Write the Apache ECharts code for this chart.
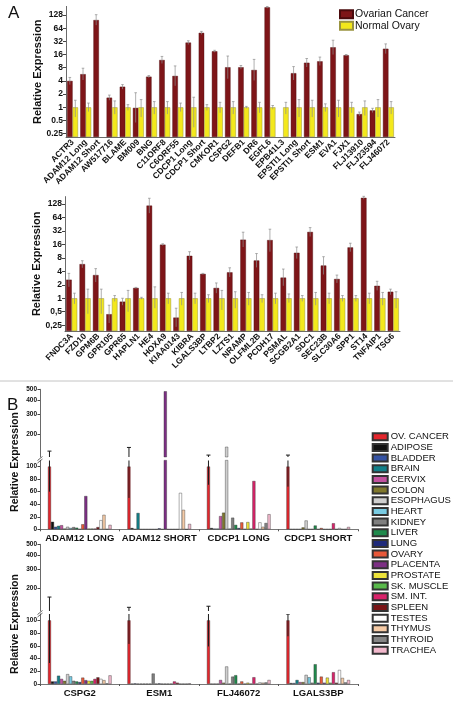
<!DOCTYPE html>
<html><head><meta charset="utf-8">
<script src="https://cdn.jsdelivr.net/npm/echarts@6/dist/echarts.min.js"></script>
<style>html,body{margin:0;padding:0;background:#fff}#c{width:453px;height:703px}</style>
</head><body><div id="c"></div>
<script>
// ---------------- Panel A (top) ----------------
const catsA1 = ['ACTR3','ADAM12 Long','ADAM12 Short','AW517716','BLAME','BM009','BNG','C11ORF8','C6ORF55','CDCP1 Long','CDCP1 Short','CMKOR1','CSPG2','DEFB1','DR6','EGFL6','EPB41L3','EPSTI1 Long','EPSTI1 Short','ESM1','EVA1','FJX1','FLJ13910','FLJ23594','FLJ46072'];
const cancerA1   = [4.0, 5.7, 98, 1.66, 2.95, 0.97, 5.0, 12, 5.2, 30, 50, 19, 8.2, 8.2, 7.1, 191, null, 6.0, 10.4, 11.2, 23.4, 15.4, 0.70, 0.85, 21.7];
const cancerA1Hi = [4.8, 7.8, 130, 1.9, 3.3, 2.15, 5.3, 14.5, 8.8, 33, 54, 20, 14.8, 9.0, 12.4, 200, null, 8.5, 13, 14, 34, 16, 0.78, 0.95, 28];
const cancerA1Lo = [3.3, 4.2, 75, 1.45, 2.6, 0.45, 4.7, 10, 3.1, 27, 46, 18, 4.5, 7.4, 4.1, 182, null, 4.2, 8.3, 9.0, 16, 14.8, 0.63, 0.76, 16.8];
const normalA1   = [1, 1, null, 1, 1, 1, 1, 1, 1, 1, 1, 1, 1, 1, 1, 1, 1, 1, 1, 1, 1, 1, 1, 1, 1];
const normalA1Hi = [1.45, 1.25, null, 1.4, 1.15, 1.5, 1.35, 1.35, 1.25, 1.7, 1.15, 1.3, 1.35, 1.05, 1.3, 1.1, 1.3, 1.5, 1.45, 1.2, 1.45, 1.3, 1.4, 1.5, 1.35];
const normalA1Lo = [0.6, 0.8, null, 0.7, 0.85, 0.6, 0.7, 0.7, 0.8, 0.35, 0.85, 0.75, 0.7, 0.95, 0.75, 0.9, 0.7, 0.6, 0.6, 0.8, 0.6, 0.75, 0.65, 0.6, 0.7];

// ---------------- Panel A (bottom) ----------------
const catsA2 = ['FNDC3A','FZD10','GPM6B','GPR105','GPR65','HAPLN1','HE4','HOXA9','KIAA0143','KIBRA','LGALS3BP','LTBP2','LZTS1','NRAMP','OLFML2B','PCDH17','PSMAL','SCGB2A1','SDC1','SEC23B','SLC30A6','SPP1','ST14','TNFAIP1','TSG6'];
const cancerA2   = [2.6, 5.8, 3.3, 0.44, 0.84, 1.7, 118, 15.8, 0.37, 8.9, 3.5, 1.7, 3.8, 20.4, 7.0, 20, 2.9, 10.4, 30.4, 5.4, 2.7, 13.7, 176, 1.9, 1.4];
const cancerA2Hi = [3.6, 6.9, 4.6, 0.7, 1.0, 1.75, 172, 16.5, 0.6, 11, 3.6, 2.2, 4.8, 30, 10, 35, 4.5, 14, 38, 8.5, 3.3, 17, 190, 2.4, 1.6];
const cancerA2Lo = [1.8, 4.8, 2.3, 0.28, 0.7, 1.65, 80, 15, 0.23, 7.2, 3.4, 1.3, 3.0, 14, 4.9, 11, 1.9, 7.7, 24, 3.4, 2.2, 11, 163, 1.5, 1.2];
const normalA2   = [1, 1, 1, 1, 1, 1, 1, 1, 1, 1, 1, 1, 1, 1, 1, 1, 1, 1, 1, 1, 1, 1, 1, 1, 1];
const normalA2Hi = [1.3, 1.6, 1.6, 1.15, 1.5, 1.05, 1.8, 1.3, 1.35, 1.3, 1.2, 1.5, 1.4, 1.35, 1.2, 1.3, 1.25, 1.15, 1.35, 1.3, 1.15, 1.15, 1.3, 1.35, 1.4];
const normalA2Lo = [0.75, 0.45, 0.45, 0.85, 0.5, 0.95, 0.6, 0.75, 0.7, 0.75, 0.8, 0.55, 0.6, 0.7, 0.8, 0.75, 0.8, 0.85, 0.7, 0.75, 0.85, 0.85, 0.75, 0.7, 0.6];
const yTicksA = [0.25, 0.5, 1, 2, 4, 8, 16, 32, 64, 128];

// ---------------- Panel B ----------------
const tissues = ['OV. CANCER','ADIPOSE','BLADDER','BRAIN','CERVIX','COLON','ESOPHAGUS','HEART','KIDNEY','LIVER','LUNG','OVARY','PLACENTA','PROSTATE','SK. MUSCLE','SM. INT.','SPLEEN','TESTES','THYMUS','THYROID','TRACHEA'];
const groupsB1 = ['ADAM12 LONG','ADAM12 SHORT','CDCP1 LONG','CDCP1 SHORT'];
const groupsB2 = ['CSPG2','ESM1','FLJ46072','LGALS3BP'];
// values per tissue (same order as tissues)
const adam12Long  = [100, 12, 4, 5.5, 6.5, 1, 4, 2, 3.5, 2.5, 0.5, 8, 53, 1, 1, 1, 3.5, 14.5, 23, 0.5, 7];
const adam12Short = [100, 2, 0.3, 26, 0.2, 0.2, 0.2, 0.2, 0.2, 0.2, 1.5, 0.2, 480, 0.2, 0.2, 0.2, 0.2, 58, 31, 0.2, 8.5];
const cdcp1Long   = [100, 2, 1, 1, 21, 26.5, 154, 1, 18.5, 7, 2, 11, 0.5, 11.5, 1, 77, 0.5, 11, 4, 10, 24];
const cdcp1Short  = [100, 0.3, 0.3, 0.3, 0.3, 3, 14, 0.3, 0.3, 6, 0.3, 2, 0.3, 0.3, 0.3, 9.6, 0.3, 2, 0.3, 0.3, 3.7];
const cspg2       = [100, 4, 4, 13, 8, 5, 15.5, 12, 5, 4, 3, 10, 6, 5, 5, 8, 10.5, 8, 6, 1, 13.5];
const esm1        = [100, 0.5, 1, 0.5, 0.5, 0.5, 0.5, 0.5, 16.4, 0.5, 1, 0.5, 0.5, 0.5, 0.5, 4, 2, 0.5, 0.5, 0.5, 1];
const flj46072    = [100, 0.5, 0.5, 0.5, 6.3, 2, 27.5, 0.5, 11.6, 13.8, 0.5, 4, 0.5, 2, 0.5, 10.6, 0.5, 2.5, 2, 2.5, 6.3];
const lgals3bp    = [100, 1.5, 1.5, 6.3, 3, 3, 14.3, 10.6, 2, 31, 2, 11.6, 2, 10, 2, 18.5, 2, 22, 9.5, 2.5, 6.3];
const ovErrHiB1 = [141, 152, 130, 130];
const ovErrLoB1 = [60, 50, 71, 68];
const ovErrHiB2 = [167, 135, 138, 122];
const ovErrLoB2 = [33, 63, 59, 75];
const yTicksBLow  = [0, 20, 40, 60, 80, 100];
const yTicksBHigh = [200, 300, 400, 500];

// ---------------- styles ----------------
const tissueColors = ['#e3262d','#111111','#3553a4','#128089','#c2529f','#80782c','#cfcfcf','#79cbe2','#7f7f7f','#1f8a4c','#1f2a7a','#e8593a','#7c2f84','#ede33a','#59b94b','#d9236a','#7a1416','#ffffff','#f6cba6','#858585','#f2b8cc'];
const FONT = "'Liberation Sans', Arial, sans-serif";
const RED = '#7e1518', YEL = '#f3e81c';

const LMIN1 = -2.25, LMAX1 = 7.65;   // top panel A (log2)
const LMIN2 = -2.43, LMAX2 = 7.55;   // bottom panel A (log2)
const GAPA = 0.17, GAPB = 0.2;
const BLOW_MAX = 110, BHI_MIN = 125, BHI_MAX = 500;

function l2(v, m) { return v == null ? null : Math.log2(v) - m; }
function hiT(v) { return Math.log10(v) - 2; }

function errA(side) {
  return function (params, api) {
    const i = api.value(0), lo = api.value(1), hi = api.value(2);
    const ch = api.coord([i, hi]), cl = api.coord([i, lo]);
    const W = api.size([1, 0])[0];
    const bw = W * (1 - GAPA) / 2;
    const x = ch[0] + side * bw / 2;
    const st = { stroke: '#8c8c8c', lineWidth: 0.7 };
    return { type: 'group', children: [
      { type: 'line', shape: { x1: x, y1: cl[1], x2: x, y2: ch[1] }, style: st },
      { type: 'line', shape: { x1: x - 1.3, y1: ch[1], x2: x + 1.3, y2: ch[1] }, style: st }
    ]};
  };
}
function errB(params, api) {
  const g = api.value(0), lo = api.value(1), hi = api.value(2), cap = api.value(3);
  const ch = api.coord([g, hi]), cl = api.coord([g, lo]);
  const W = api.size([1, 0])[0];
  const bw = W * (1 - GAPB) / tissues.length;
  const x = ch[0] - W * (1 - GAPB) / 2 + bw / 2;
  const st = { stroke: '#1a1a1a', lineWidth: 1 };
  const ch2 = [{ type: 'line', shape: { x1: x, y1: cl[1], x2: x, y2: ch[1] }, style: st }];
  if (cap) ch2.push({ type: 'line', shape: { x1: x - 2, y1: ch[1], x2: x + 2, y2: ch[1] }, style: st });
  return { type: 'group', children: ch2 };
}

function makeAxesA(cats, lmin, lmax, dec, gi) {
  const x = { type: 'category', gridIndex: gi, data: cats,
    axisLine: { lineStyle: { color: '#444', width: 0.8 } }, axisTick: { show: false },
    axisLabel: { interval: 0, rotate: 45, margin: 4, fontSize: 8.5, fontWeight: 'bold', color: '#111', fontFamily: FONT } };
  const cv = yTicksA.map(v => Math.log2(v) - lmin);
  const y = { type: 'value', gridIndex: gi, min: 0, max: lmax - lmin,
    name: 'Relative Expression', nameLocation: 'middle', nameGap: 23, nameMoveOverlap: false,
    nameTextStyle: { fontSize: 11, fontWeight: 'bold', color: '#111', fontFamily: FONT },
    axisLine: { show: true, lineStyle: { color: '#444', width: 0.8 } },
    axisTick: { show: true, length: 3, customValues: cv, lineStyle: { color: '#444' } },
    splitLine: { show: false },
    axisLabel: { customValues: cv, margin: 3, fontSize: 8.5, fontWeight: 'bold', color: '#111', fontFamily: FONT,
      formatter: v => { const e = Math.round(v + lmin); const s = String(Math.pow(2, e)); return dec === ',' ? s.replace('.', ',') : s; } } };
  return [x, y];
}
function seriesA(gi, cancer, cHi, cLo, normal, nHi, nLo, lmin) {
  const barCommon = { type: 'bar', xAxisIndex: gi, yAxisIndex: gi, barGap: '0%', barCategoryGap: (GAPA * 100) + '%' };
  const eC = [], eN = [];
  cancer.forEach((v, i) => { if (v != null) eC.push([i, l2(cLo[i], lmin), l2(cHi[i], lmin)]); });
  normal.forEach((v, i) => { if (v != null) eN.push([i, l2(nLo[i], lmin), l2(nHi[i], lmin)]); });
  return [
    Object.assign({ name: 'Ovarian Cancer', data: cancer.map(v => l2(v, lmin)), itemStyle: { color: RED, borderColor: '#4a0a0c', borderWidth: 0.4 } }, barCommon),
    Object.assign({ name: 'Normal Ovary', data: normal.map(v => l2(v, lmin)), itemStyle: { color: YEL, borderColor: '#9a9440', borderWidth: 0.5 } }, barCommon),
    { type: 'custom', xAxisIndex: gi, yAxisIndex: gi, renderItem: errA(-1), data: eC, z: 5, silent: true },
    { type: 'custom', xAxisIndex: gi, yAxisIndex: gi, renderItem: errA(1), data: eN, z: 5, silent: true }
  ];
}

function makeAxesB(groups, giU, giL) {
  const common = { fontSize: 6.5, fontWeight: 'bold', color: '#111', fontFamily: FONT };
  const xU = { type: 'category', gridIndex: giU, data: groups, show: false };
  const xL = { type: 'category', gridIndex: giL, data: groups,
    axisLine: { lineStyle: { color: '#555', width: 0.8 } },
    axisTick: { show: true, length: 2, lineStyle: { color: '#555' } },
    axisLabel: { interval: 0, hideOverlap: false, margin: 4, fontSize: 9.5, fontWeight: 'bold', color: '#111', fontFamily: FONT } };
  const cvH = yTicksBHigh.map(hiT);
  const yU = { type: 'value', gridIndex: giU, min: hiT(BHI_MIN), max: hiT(BHI_MAX),
    axisLine: { show: true, lineStyle: { color: '#444', width: 0.8 } },
    axisTick: { show: true, length: 2.5, customValues: cvH, lineStyle: { color: '#444' } },
    splitLine: { show: false },
    axisLabel: Object.assign({ customValues: cvH, margin: 3, formatter: v => String(Math.round(Math.pow(10, v + 2))) }, common) };
  const yL = { type: 'value', gridIndex: giL, min: 0, max: BLOW_MAX,
    axisLine: { show: true, lineStyle: { color: '#444', width: 0.8 } },
    axisTick: { show: true, length: 2.5, customValues: yTicksBLow, lineStyle: { color: '#444' } },
    splitLine: { show: false },
    axisLabel: Object.assign({ customValues: yTicksBLow, margin: 3 }, common) };
  return [[xU, xL], [yU, yL]];
}
function seriesB(groupArrays, errHi, errLo, giU, giL) {
  const out = [];
  tissues.forEach((t, k) => {
    const vals = groupArrays.map(a => a[k]);
    const base = { type: 'bar', name: t, barGap: '0%', barCategoryGap: (GAPB * 100) + '%', clip: true,
      itemStyle: { color: tissueColors[k], borderColor: '#333', borderWidth: 0.4 } };
    out.push(Object.assign({ xAxisIndex: giL, yAxisIndex: giL, data: vals }, base));
    out.push(Object.assign({ xAxisIndex: giU, yAxisIndex: giU, data: vals.map(v => v > BHI_MIN ? hiT(v) : null) }, base));
  });
  const eL = errHi.map((h, g) => [g, errLo[g], Math.min(h, BLOW_MAX), h <= BHI_MIN ? 1 : 0]);
  const eU = [];
  errHi.forEach((h, g) => { if (h > BHI_MIN) eU.push([g, hiT(BHI_MIN), hiT(h), 1]); });
  out.push({ type: 'custom', xAxisIndex: giL, yAxisIndex: giL, renderItem: errB, data: eL, z: 5, clip: true, silent: true });
  out.push({ type: 'custom', xAxisIndex: giU, yAxisIndex: giU, renderItem: errB, data: eU, z: 5, clip: true, silent: true });
  return out;
}

const [xA1, yA1] = makeAxesA(catsA1, LMIN1, LMAX1, '.', 0);
const [xA2, yA2] = makeAxesA(catsA2, LMIN2, LMAX2, ',', 1);
const [xB1, yB1] = makeAxesB(groupsB1, 2, 3);
const [xB2, yB2] = makeAxesB(groupsB2, 4, 5);

const g = (left, top, width, height) => ({ left, top, width, height, containLabel: false, outerBoundsMode: 'none' });

const option = {
  backgroundColor: '#fff',
  animation: false,
  textStyle: { fontFamily: FONT },
  grid: [
    g(66, 6.4, 329, 130.6),
    g(65, 196.6, 335, 134.4),
    g(40, 389.3, 318, 67.7),
    g(40, 460.3, 318, 69),
    g(40, 544.3, 318, 66.7),
    g(40, 614, 318, 70)
  ],
  xAxis: [xA1, xA2, xB1[0], xB1[1], xB2[0], xB2[1]],
  yAxis: [yA1, yA2, yB1[0], yB1[1], yB2[0], yB2[1]],
  legend: [
    { data: ['Ovarian Cancer', 'Normal Ovary'], orient: 'vertical', left: 339, top: 8.5, padding: 0, icon: 'rect',
      itemWidth: 13, itemHeight: 8, itemGap: 0, selectedMode: false,
      textStyle: { fontSize: 10.5, color: '#111', fontFamily: FONT, lineHeight: 11.5, padding: [0, 0, 0, -3] } },
    { data: tissues, orient: 'vertical', left: 371.7, top: 431.4, padding: 0, icon: 'rect',
      itemWidth: 15, itemHeight: 7, itemGap: 0, selectedMode: false,
      textStyle: { fontSize: 9.5, color: '#111', fontFamily: FONT, lineHeight: 10.67, padding: [0, 0, 0, -2] } }
  ],
  graphic: [
    { type: 'text', left: 8, top: 5, style: { text: 'A', fontSize: 17, fill: '#111', fontFamily: FONT } },
    { type: 'text', left: 7, top: 397, style: { text: 'B', fontSize: 17, fill: '#111', fontFamily: FONT } },
    { type: 'line', shape: { x1: 0, y1: 381, x2: 453, y2: 381 }, style: { stroke: '#c4c4c4', lineWidth: 1 } },
    { type: 'text', x: 15, y: 462, rotation: Math.PI / 2, style: { text: 'Relative Expression', fontSize: 10.5, fontWeight: 'bold', fill: '#111', fontFamily: FONT, align: 'center', verticalAlign: 'middle' } },
    { type: 'text', x: 15, y: 624, rotation: Math.PI / 2, style: { text: 'Relative Expression', fontSize: 10.5, fontWeight: 'bold', fill: '#111', fontFamily: FONT, align: 'center', verticalAlign: 'middle' } },
    { type: 'line', shape: { x1: 37.5, y1: 460.5, x2: 42.5, y2: 456.5 }, style: { stroke: '#444', lineWidth: 0.8 } },
    { type: 'line', shape: { x1: 37.5, y1: 463, x2: 42.5, y2: 459 }, style: { stroke: '#444', lineWidth: 0.8 } },
    { type: 'line', shape: { x1: 37.5, y1: 614.5, x2: 42.5, y2: 610.5 }, style: { stroke: '#444', lineWidth: 0.8 } },
    { type: 'line', shape: { x1: 37.5, y1: 617, x2: 42.5, y2: 613 }, style: { stroke: '#444', lineWidth: 0.8 } }
  ],
  series: [].concat(
    seriesA(0, cancerA1, cancerA1Hi, cancerA1Lo, normalA1, normalA1Hi, normalA1Lo, LMIN1),
    seriesA(1, cancerA2, cancerA2Hi, cancerA2Lo, normalA2, normalA2Hi, normalA2Lo, LMIN2),
    seriesB([adam12Long, adam12Short, cdcp1Long, cdcp1Short], ovErrHiB1, ovErrLoB1, 2, 3),
    seriesB([cspg2, esm1, flj46072, lgals3bp], ovErrHiB2, ovErrLoB2, 4, 5)
  )
};
const chart = echarts.init(document.getElementById('c'), null, { renderer: 'canvas' });
chart.setOption(option);
</script></body></html>
